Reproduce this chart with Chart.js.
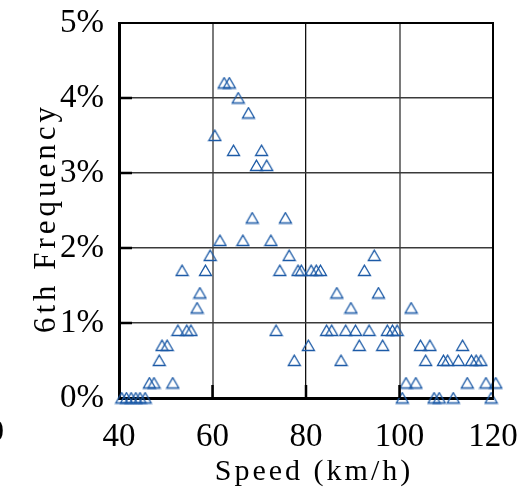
<!DOCTYPE html>
<html>
<head>
<meta charset="utf-8">
<script src="https://cdn.jsdelivr.net/npm/chart.js@4/dist/chart.umd.min.js"></script>
<style>
  html, body { margin: 0; padding: 0; background: #fff; }
  #wrap { width: 523px; height: 491px; position: relative; }
</style>
</head>
<body>
<div id="wrap"><canvas id="chart"></canvas></div>
<script>
// Скорость (км/ч) и частота 6-й гармоники (%)
const speeds = [
  40.6, 41.6, 42.6, 43.6, 44.5, 45.6, 46.5, 47.5, 48.6, 49.2,
  50.3, 51.5, 52.6, 53.5, 54.5, 55.4, 56.7, 57.3, 58.5, 59.5,
  60.5, 61.6, 62.5, 63.6, 64.5, 65.5, 66.5, 67.7, 68.5, 69.4,
  70.5, 71.6, 72.5, 73.6, 74.4, 75.6, 76.4, 77.5, 78.3, 79.0,
  80.5, 81.1, 82.2, 83.1, 84.4, 85.5, 86.6, 87.5, 88.5, 89.6,
  90.6, 91.4, 92.5, 93.5, 94.6, 95.5, 96.4, 97.4, 98.5, 99.5,
  100.6, 101.4, 102.5, 103.5, 104.5, 105.6, 106.5, 107.4, 108.5, 109.4,
  110.3, 111.5, 112.6, 113.5, 114.5, 115.4, 116.4, 117.4, 118.5, 119.6,
  120.6
];
const freqs = [
  0, 0, 0, 0, 0, 0, 0.2, 0.2, 0.5, 0.7,
  0.7, 0.2, 0.9, 1.7, 0.9, 0.9, 1.2, 1.4, 1.7, 1.9,
  3.5, 2.1, 4.2, 4.2, 3.3, 4.0, 2.1, 3.8, 2.4, 3.1,
  3.3, 3.1, 2.1, 0.9, 1.7, 2.4, 1.9, 0.5, 1.7, 1.7,
  0.7, 1.7, 1.7, 1.7, 0.9, 0.9, 1.4, 0.5, 0.9, 1.2,
  0.9, 0.7, 1.7, 0.9, 1.9, 1.4, 0.7, 0.9, 0.9, 0.9,
  0, 0.2, 1.2, 0.2, 0.7, 0.5, 0.7, 0, 0, 0.5,
  0.5, 0, 0.5, 0.7, 0.2, 0.5, 0.5, 0.5, 0.2, 0,
  0.2
];
const xTicks = [40, 60, 80, 100, 120];
const yTicks = [0, 1, 2, 3, 4, 5];

const FONT = "'Liberation Serif', 'DejaVu Serif', serif";
const BLUE = '#1c5aa6';

// маркер-треугольник (контур), центрированный по рамке
function makeTriangle() {
  const c = document.createElement('canvas');
  c.width = 15; c.height = 13;
  const g = c.getContext('2d');
  g.strokeStyle = BLUE;
  g.lineWidth = 1.3;
  g.beginPath();
  g.moveTo(7.5, 1.2);
  g.lineTo(1.5, 11.5);
  g.lineTo(13.5, 11.5);
  g.closePath();
  g.stroke();
  return c;
}

const points = speeds.map((s, i) => ({ x: s, y: freqs[i] }));

// рамка, внутренние засечки и подписи осей
const framePlugin = {
  id: 'frame',
  afterDraw(chart) {
    const { ctx, chartArea: a, scales } = chart;
    ctx.save();
    ctx.strokeStyle = '#000';
    ctx.lineWidth = 2;
    ctx.beginPath();
    ctx.moveTo(a.left, a.top);
    ctx.lineTo(a.right, a.top);
    ctx.lineTo(a.right, a.bottom);
    ctx.stroke();

    ctx.lineWidth = 2.5;
    ctx.beginPath();
    yTicks.slice(1, -1).forEach(v => {
      const y = scales.y.getPixelForValue(v);
      ctx.moveTo(a.left, y);
      ctx.lineTo(a.left + 13, y);
    });
    xTicks.slice(1, -1).forEach(v => {
      const x = scales.x.getPixelForValue(v);
      ctx.moveTo(x, a.bottom);
      ctx.lineTo(x, a.bottom - 13);
    });
    ctx.stroke();

    ctx.fillStyle = '#000';
    ctx.font = '30px ' + FONT;
    ctx.textBaseline = 'middle';
    ctx.letterSpacing = '3px';
    ctx.textAlign = 'center';
    ctx.fillText('Speed (km/h)', 314, 472);

    ctx.font = '31px ' + FONT;
    ctx.letterSpacing = '4px';
    ctx.translate(47, 218);
    ctx.rotate(-Math.PI / 2);
    ctx.fillText('6th Frequency', 0, 0);
    ctx.restore();

    // обрезанная подпись соседнего графика
    ctx.save();
    ctx.fillStyle = '#000';
    ctx.font = '32px ' + FONT;
    ctx.textAlign = 'right';
    ctx.textBaseline = 'middle';
    ctx.fillText('20', 4, 433);
    ctx.restore();
  }
};

new Chart(document.getElementById('chart'), {
  type: 'scatter',
  data: {
    datasets: [{
      data: points,
      pointStyle: makeTriangle(),
      pointRadius: 6,
      clip: false
    }]
  },
  options: {
    responsive: true,
    maintainAspectRatio: false,
    animation: false,
    layout: { padding: { top: 23, right: 30, left: 0, bottom: 0 } },
    plugins: { legend: { display: false }, tooltip: { enabled: false } },
    scales: {
      x: {
        type: 'linear',
        min: 40, max: 120,
        afterFit(scale) {
          scale.height = 93;
          scale.paddingLeft = 0;
          scale.paddingRight = 0;
        },
        afterBuildTicks(scale) { scale.ticks = xTicks.map(v => ({ value: v })); },
        border: { color: '#000', width: 3 },
        grid: {
          drawTicks: false,
          color: ctx => ctx.tick && ctx.tick.value === 80 ? '#111' : '#7a7a7a',
          lineWidth: ctx => ctx.tick && ctx.tick.value === 80 ? 1.3 : 2
        },
        ticks: {
          color: '#000',
          padding: 20,
          font: { family: FONT, size: 33 }
        }
      },
      y: {
        min: 0, max: 5,
        afterFit(scale) {
          scale.width = 119;
          scale.paddingTop = 0;
          scale.paddingBottom = 0;
        },
        afterBuildTicks(scale) { scale.ticks = yTicks.map(v => ({ value: v })); },
        border: { color: '#000', width: 3 },
        grid: { drawTicks: false, color: '#3a3a3a', lineWidth: 1.5 },
        ticks: {
          color: '#000',
          padding: 15,
          font: { family: FONT, size: 33 },
          callback: v => v + '%'
        }
      }
    }
  },
  plugins: [framePlugin]
});
</script>
</body>
</html>
